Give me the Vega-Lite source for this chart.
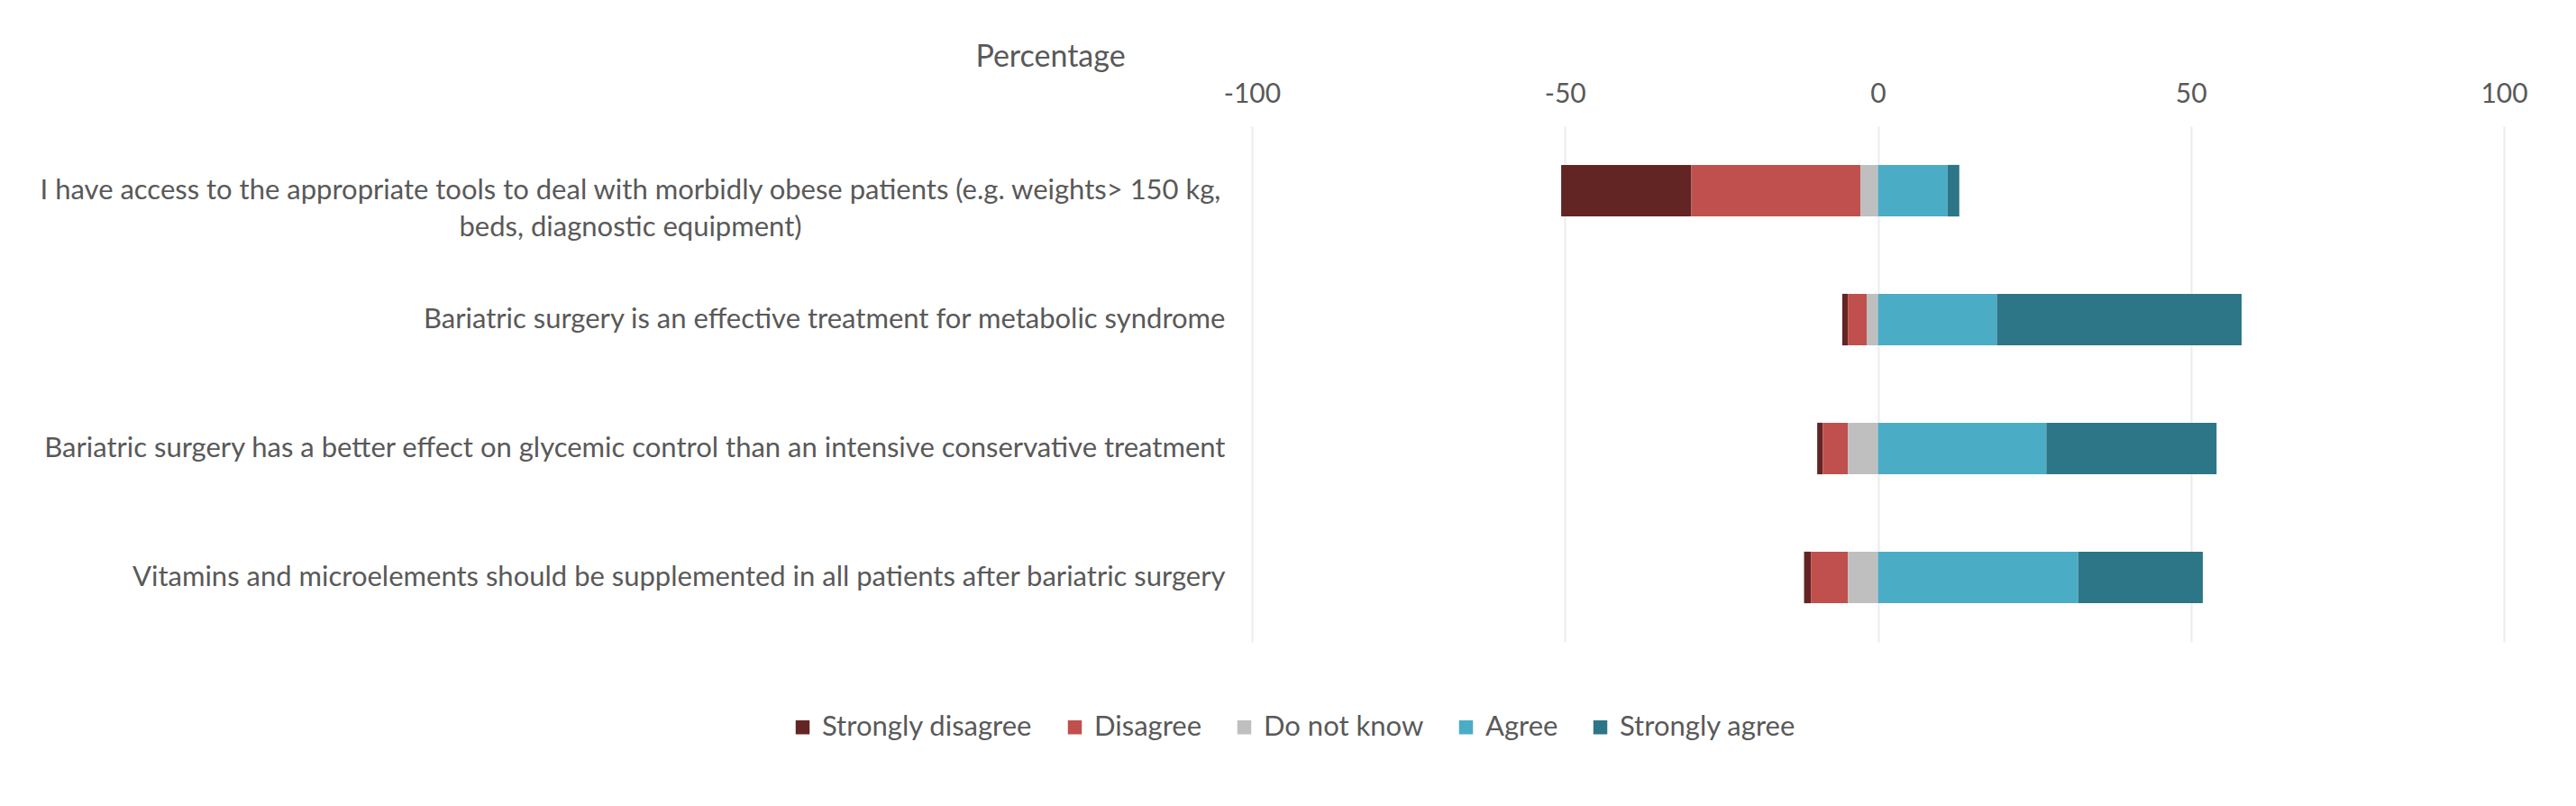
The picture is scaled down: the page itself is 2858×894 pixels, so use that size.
{
  "$schema": "https://vega.github.io/schema/vega-lite/v6.json",
  "width": 1389,
  "height": 572,
  "autosize": {"type": "none"},
  "padding": {"left": 1389, "top": 140, "right": 80, "bottom": 182},
  "background": "white",
  "config": {
    "view": {"stroke": null},
    "font": "Lato",
    "axis": {"labelFont": "Lato", "titleFont": "Lato", "labelColor": "#595959", "titleColor": "#595959"},
    "legend": {"labelFont": "Lato"}
  },
  "data": {
    "values": [
      {"question": "I have access to the appropriate tools to deal with morbidly obese patients (e.g. weights> 150 kg, beds, diagnostic equipment)", "response": "Strongly disagree", "value": -20.8, "ord": 3},
      {"question": "I have access to the appropriate tools to deal with morbidly obese patients (e.g. weights> 150 kg, beds, diagnostic equipment)", "response": "Disagree", "value": -27.0, "ord": 2},
      {"question": "I have access to the appropriate tools to deal with morbidly obese patients (e.g. weights> 150 kg, beds, diagnostic equipment)", "response": "Do not know", "value": -2.8, "ord": 1},
      {"question": "I have access to the appropriate tools to deal with morbidly obese patients (e.g. weights> 150 kg, beds, diagnostic equipment)", "response": "Agree", "value": 11.1, "ord": 4},
      {"question": "I have access to the appropriate tools to deal with morbidly obese patients (e.g. weights> 150 kg, beds, diagnostic equipment)", "response": "Strongly agree", "value": 1.9, "ord": 5},
      {"question": "Bariatric surgery is an effective treatment for metabolic syndrome", "response": "Strongly disagree", "value": -0.9, "ord": 3},
      {"question": "Bariatric surgery is an effective treatment for metabolic syndrome", "response": "Disagree", "value": -3.0, "ord": 2},
      {"question": "Bariatric surgery is an effective treatment for metabolic syndrome", "response": "Do not know", "value": -1.8, "ord": 1},
      {"question": "Bariatric surgery is an effective treatment for metabolic syndrome", "response": "Agree", "value": 19.0, "ord": 4},
      {"question": "Bariatric surgery is an effective treatment for metabolic syndrome", "response": "Strongly agree", "value": 39.1, "ord": 5},
      {"question": "Bariatric surgery has a better effect on glycemic control than an intensive conservative treatment", "response": "Strongly disagree", "value": -0.9, "ord": 3},
      {"question": "Bariatric surgery has a better effect on glycemic control than an intensive conservative treatment", "response": "Disagree", "value": -4.0, "ord": 2},
      {"question": "Bariatric surgery has a better effect on glycemic control than an intensive conservative treatment", "response": "Do not know", "value": -4.8, "ord": 1},
      {"question": "Bariatric surgery has a better effect on glycemic control than an intensive conservative treatment", "response": "Agree", "value": 26.9, "ord": 4},
      {"question": "Bariatric surgery has a better effect on glycemic control than an intensive conservative treatment", "response": "Strongly agree", "value": 27.2, "ord": 5},
      {"question": "Vitamins and microelements should be supplemented in all patients after bariatric surgery", "response": "Strongly disagree", "value": -1.1, "ord": 3},
      {"question": "Vitamins and microelements should be supplemented in all patients after bariatric surgery", "response": "Disagree", "value": -5.9, "ord": 2},
      {"question": "Vitamins and microelements should be supplemented in all patients after bariatric surgery", "response": "Do not know", "value": -4.8, "ord": 1},
      {"question": "Vitamins and microelements should be supplemented in all patients after bariatric surgery", "response": "Agree", "value": 32.0, "ord": 4},
      {"question": "Vitamins and microelements should be supplemented in all patients after bariatric surgery", "response": "Strongly agree", "value": 19.9, "ord": 5}
    ]
  },
  "mark": {"type": "bar"},
  "encoding": {
    "y": {
      "field": "question",
      "type": "nominal",
      "sort": null,
      "scale": {"paddingInner": 0.6, "paddingOuter": 0.3},
      "axis": {
        "title": null,
        "ticks": false,
        "domain": false,
        "labelFontSize": 31,
        "labelLimit": 2000,
        "labelLineHeight": 41,
        "labelExpr": "indexof(datum.value, ' beds,') > 0 ? [slice(datum.value, 0, indexof(datum.value, ' beds,')), slice(datum.value, indexof(datum.value, ' beds,') + 1)] : datum.value",
        "labelAlign": {"condition": {"test": "indexof(datum.value, ' beds,') > 0", "value": "center"}, "value": "right"},
        "labelPadding": {"condition": {"test": "indexof(datum.value, ' beds,') > 0", "value": 690}, "value": 30}
      }
    },
    "x": {
      "field": "value",
      "type": "quantitative",
      "stack": "zero",
      "scale": {"domain": [-100, 100]},
      "axis": {
        "orient": "top",
        "values": [-100, -50, 0, 50, 100],
        "labelExpr": "replace(datum.label, '\u2212', '-')",
        "labelFlush": false,
        "title": "Percentage",
        "titleFontSize": 34,
        "titleFontWeight": "normal",
        "titleAlign": "center",
        "titleBaseline": "middle",
        "titleX": -224,
        "titleY": -77,
        "titleAngle": 0,
        "ticks": false,
        "domain": false,
        "labelFontSize": 30,
        "labelPadding": 21,
        "grid": true,
        "gridColor": "#ececec",
        "gridWidth": 2
      }
    },
    "color": {
      "field": "response",
      "type": "nominal",
      "scale": {
        "domain": ["Strongly disagree", "Disagree", "Do not know", "Agree", "Strongly agree"],
        "range": ["#632523", "#C0504D", "#BFBFBF", "#4BACC6", "#2C7688"]
      },
      "legend": {
        "title": null,
        "orient": "none",
        "direction": "horizontal",
        "legendX": -514,
        "legendY": 651,
        "symbolType": "square",
        "symbolSize": 240,
        "symbolStrokeWidth": 0,
        "labelFontSize": 31,
        "labelColor": "#595959",
        "labelLimit": 500,
        "columnPadding": 31,
        "labelOffset": 6
      }
    },
    "order": {"field": "ord", "type": "quantitative"}
  }
}
